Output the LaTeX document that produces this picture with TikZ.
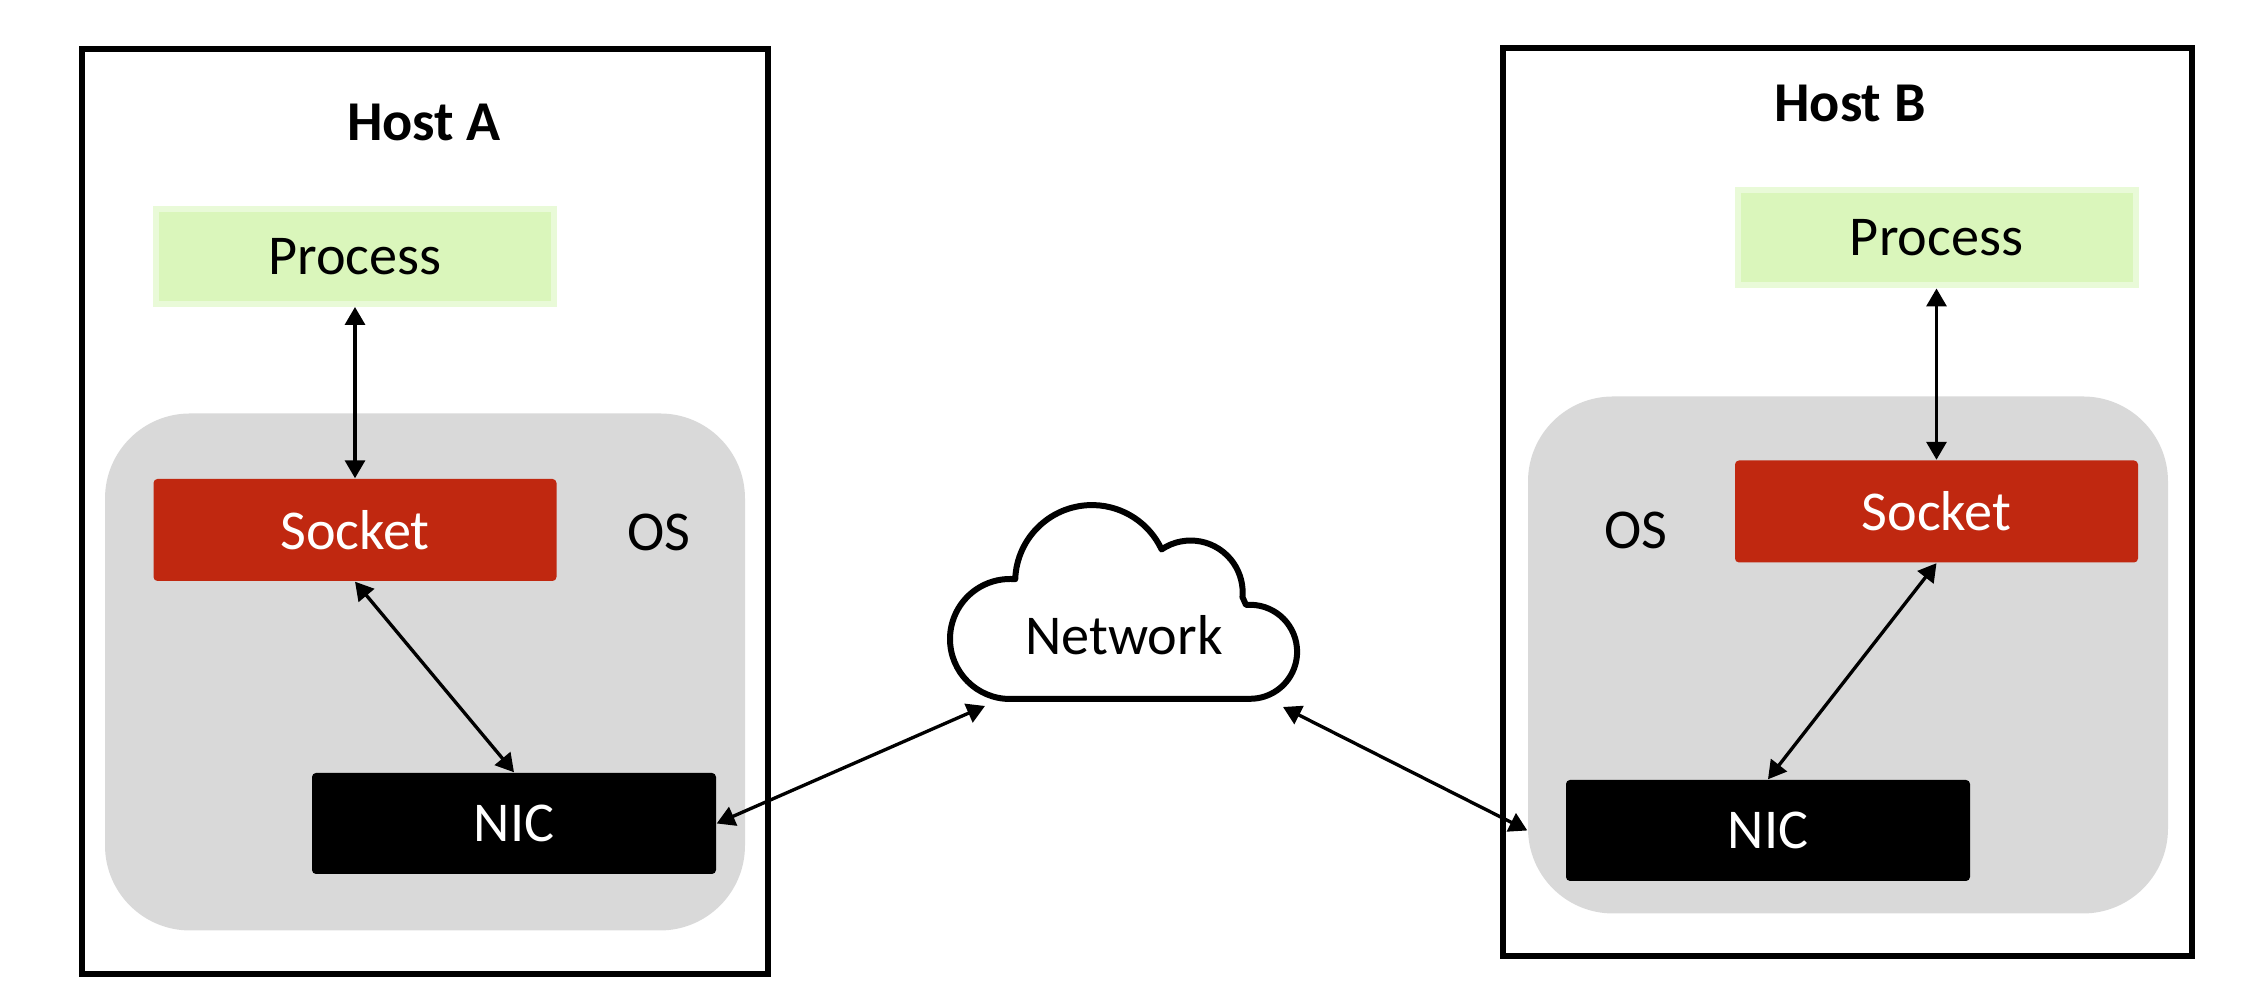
\documentclass[tikz,border=0pt]{standalone}
\usepackage{fontspec}
\setmainfont{Carlito}
\usetikzlibrary{arrows.meta}
\definecolor{procgreen}{RGB}{218,246,187}
\definecolor{procedge}{RGB}{233,250,216}
\definecolor{sockred}{RGB}{192,40,16}
\definecolor{osgray}{RGB}{217,217,217}

\tikzset{
  hostframe/.style={draw, line width=0.055cm, inner sep=0pt},
  osregion/.style={fill=osgray, rounded corners=0.85cm, inner sep=0pt, minimum width=6.4cm, minimum height=5.17cm},
  procbox/.style={fill=procgreen, draw=procedge, line width=0.06cm, minimum width=3.98cm, minimum height=0.95cm},
  sockbox/.style={fill=sockred, text=white, rounded corners=0.04cm, minimum width=4.03cm, minimum height=1.02cm},
  nicbox/.style={fill=black, text=white, rounded corners=0.04cm, minimum width=4.04cm, minimum height=1.01cm},
  link/.style={{Triangle[length=0.18cm,width=0.2cm]}-{Triangle[length=0.18cm,width=0.2cm]}, line width=0.95pt},
  cloudline/.style={line width=0.06cm, line join=round}
}

\begin{document}
\begin{tikzpicture}[font=\fontsize{16}{19}\selectfont]
  \useasboundingbox (0,0) rectangle (22.56,10);

  % Host A
  \node[hostframe, minimum width=6.86cm, minimum height=9.25cm] (hostA) at (4.25,4.885) {};
  \node[font=\fontsize{16}{19}\selectfont\bfseries] (titleA) at (4.24,8.77) {Host A};
  \node[osregion] (osA) at (4.25,3.28) {};
  \node[procbox] (procA) at (3.55,7.435) {Process};
  \node[sockbox] (sockA) at (3.55,4.70) {Socket};
  \node (osnameA) at (6.59,4.68) {OS};
  \node[nicbox] (nicA) at (5.14,1.765) {NIC};

  % Host B
  \node[hostframe, minimum width=6.89cm, minimum height=9.08cm] (hostB) at (18.475,4.98) {};
  \node[font=\fontsize{16}{19}\selectfont\bfseries] (titleB) at (18.50,8.965) {Host B};
  \node[osregion] (osB) at (18.48,3.45) {};
  \node[procbox] (procB) at (19.365,7.62) {Process};
  \node[sockbox] (sockB) at (19.365,4.885) {Socket};
  \node (osnameB) at (16.36,4.70) {OS};
  \node[nicbox] (nicB) at (17.68,1.695) {NIC};

  % Network cloud
  \draw[cloudline] (10.10,3.01) arc[start angle=270, end angle=85, radius=0.60]
    arc[start angle=178, end angle=25, radius=0.768]
    arc[start angle=124, end angle=-5, radius=0.52] -- (12.46,3.95)
    arc[start angle=95, end angle=-90, radius=0.47] -- cycle;
  \node (net) at (11.24,3.65) {Network};
  \coordinate (netL) at (9.85,2.94);
  \coordinate (netR) at (12.83,2.93);

  % links
  \draw[link] (procA.south) -- (sockA.north);
  \draw[link] (sockA.south) -- (nicA.north);
  \draw[link] (nicA.east) -- (netL);
  \draw[link] (netR) -- (osB.west |- nicB);
  \draw[link] (procB.south) -- (sockB.north);
  \draw[link] (sockB.south) -- (nicB.north);
\end{tikzpicture}
\end{document}
